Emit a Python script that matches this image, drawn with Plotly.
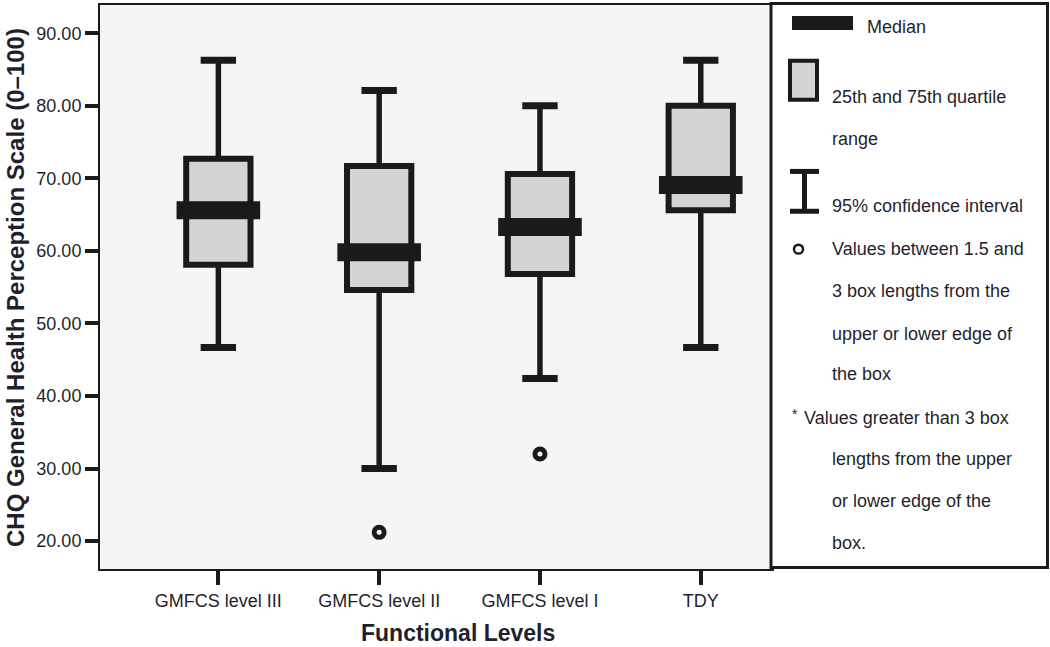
import plotly.graph_objects as go

# ---- data ----
categories = ["GMFCS level III", "GMFCS level II", "GMFCS level I", "TDY"]
upper_whisker = [86.3, 82.1, 80.0, 86.3]
q3_values = [72.7, 71.7, 70.6, 80.0]
median_values = [65.6, 59.8, 63.3, 69.1]
q1_values = [58.1, 54.6, 56.8, 65.6]
lower_whisker = [46.7, 30.0, 42.4, 46.7]
outlier_categories = ["GMFCS level II", "GMFCS level I"]
outlier_values = [21.2, 32.0]
y_tick_values = [20, 30, 40, 50, 60, 70, 80, 90]
y_tick_labels = ["20.00", "30.00", "40.00", "50.00", "60.00", "70.00", "80.00", "90.00"]

legend_lines = [
    ("Median", 865, 25),
    ("25th and 75th quartile", 830, 95),
    ("range", 830, 137),
    ("95% confidence interval", 830, 205),
    ("Values between 1.5 and", 830, 248),
    ("3 box lengths from the", 830, 290),
    ("upper or lower edge of", 830, 333),
    ("the box", 830, 373),
    ("Values greater than 3 box", 802, 417),
    ("lengths from the upper", 830, 459),
    ("or lower edge of the", 830, 501),
    ("box.", 830, 543),
]

# ---- style ----
INK = "#1a1a1a"
TXT = "#1f1f2e"
BOX_FILL = "#d3d4d6"
FONT = "Liberation Sans, Arial, sans-serif"
W, H = 1050, 647
PL, PR, PT, PB = 100, 772, 3, 569

pos = list(range(len(categories)))
cat_pos = {c: i for i, c in enumerate(categories)}

fig = go.Figure()

# whiskers
wx, wy = [], []
for i in pos:
    wx += [i, i, None, i, i, None]
    wy += [q3_values[i], upper_whisker[i], None, q1_values[i], lower_whisker[i], None]
fig.add_trace(go.Scatter(x=wx, y=wy, mode="lines", line=dict(color=INK, width=5.5),
                         hoverinfo="skip", showlegend=False))

# boxes
fig.add_trace(go.Bar(
    x=pos, y=[q3_values[i] - q1_values[i] for i in pos], base=q1_values,
    width=0.40, marker=dict(color=BOX_FILL, line=dict(color=INK, width=6)),
    showlegend=False, hoverinfo="skip"))

# caps
cx, cy = [], []
for i in pos:
    cx += [i - 0.11, i + 0.11, None, i - 0.11, i + 0.11, None]
    cy += [upper_whisker[i], upper_whisker[i], None, lower_whisker[i], lower_whisker[i], None]
fig.add_trace(go.Scatter(x=cx, y=cy, mode="lines", line=dict(color=INK, width=7),
                         hoverinfo="skip", showlegend=False))

# medians
mx, my = [], []
for i in pos:
    mx += [i - 0.26, i + 0.26, None]
    my += [median_values[i], median_values[i], None]
fig.add_trace(go.Scatter(x=mx, y=my, mode="lines", line=dict(color=INK, width=18),
                         hoverinfo="skip", showlegend=False))

# outliers
fig.add_trace(go.Scatter(
    x=[cat_pos[c] for c in outlier_categories], y=outlier_values, mode="markers",
    marker=dict(symbol="circle-open", size=10, color=INK, line=dict(width=5, color=INK)),
    hoverinfo="skip", showlegend=False))


# ---- legend panel (layout decoration, pixel -> paper) ----
def X(px):
    return (px - PL) / (PR - PL)


def Y(py):
    return (PB - py) / (PB - PT)


shapes = [
    dict(type="rect", xref="paper", yref="paper", x0=X(771), x1=X(1047.5), y0=Y(567.5), y1=Y(1.5),
         line=dict(color=INK, width=3), fillcolor="white", layer="above"),
    dict(type="rect", xref="paper", yref="paper", x0=X(792), x1=X(853), y0=Y(28), y1=Y(14),
         line=dict(width=0), fillcolor=INK, layer="above"),
    dict(type="rect", xref="paper", yref="paper", x0=X(790), x1=X(817), y0=Y(98), y1=Y(59),
         line=dict(color=INK, width=4), fillcolor=BOX_FILL, layer="above"),
    dict(type="line", xref="paper", yref="paper", x0=X(804.5), x1=X(804.5), y0=Y(210), y1=Y(170),
         line=dict(color=INK, width=5), layer="above"),
    dict(type="line", xref="paper", yref="paper", x0=X(790), x1=X(819), y0=Y(170), y1=Y(170),
         line=dict(color=INK, width=5), layer="above"),
    dict(type="line", xref="paper", yref="paper", x0=X(790), x1=X(819), y0=Y(210), y1=Y(210),
         line=dict(color=INK, width=5), layer="above"),
    dict(type="circle", xref="paper", yref="paper", x0=X(794), x1=X(803), y0=Y(252.5), y1=Y(243.5),
         line=dict(color=INK, width=2.5), fillcolor="white", layer="above"),
]

annotations = []
for text, px, py in legend_lines:
    annotations.append(dict(text=text, xref="paper", yref="paper", x=X(px), y=Y(py),
                            xanchor="left", yanchor="middle", showarrow=False,
                            font=dict(family=FONT, size=18, color=TXT)))
annotations.append(dict(text="*", xref="paper", yref="paper", x=X(790), y=Y(413),
                        xanchor="left", yanchor="middle", showarrow=False,
                        font=dict(family=FONT, size=14, color=TXT)))
annotations.append(dict(text="<b>Functional Levels</b>", xref="paper", yref="paper",
                        x=X(458), y=Y(633), xanchor="center", yanchor="middle", showarrow=False,
                        font=dict(family=FONT, size=23, color=TXT)))
annotations.append(dict(text="<b>CHQ General Health Perception Scale (0\u2013100)</b>",
                        xref="paper", yref="paper", x=X(16), y=Y(287), textangle=-90,
                        xanchor="center", yanchor="middle", showarrow=False,
                        font=dict(family=FONT, size=24, color=TXT)))

fig.update_layout(
    width=W, height=H,
    margin=dict(l=PL, r=W - PR, t=PT, b=H - PB, pad=0),
    paper_bgcolor="white", plot_bgcolor="#f5f5f5",
    barmode="overlay", showlegend=False,
    shapes=shapes, annotations=annotations,
    xaxis=dict(range=[-0.736, 3.443], tickmode="array", tickvals=pos, ticktext=categories,
               showgrid=False, zeroline=False, showline=True, mirror=True,
               linecolor=INK, linewidth=2, ticks="outside", ticklen=14, tickwidth=4,
               tickcolor=INK, tickfont=dict(family=FONT, size=18, color=TXT)),
    yaxis=dict(range=[16.15, 93.9], tickmode="array", tickvals=y_tick_values,
               ticktext=y_tick_labels, showgrid=False, zeroline=False, showline=True,
               mirror=True, linecolor=INK, linewidth=2, ticks="outside", ticklen=13,
               tickwidth=4, tickcolor=INK, tickfont=dict(family=FONT, size=18, color=TXT)),
)

fig.write_html("out.html", config={"displayModeBar": False},
               post_script="document.body.style.margin='0px';document.body.style.overflow='hidden';")
